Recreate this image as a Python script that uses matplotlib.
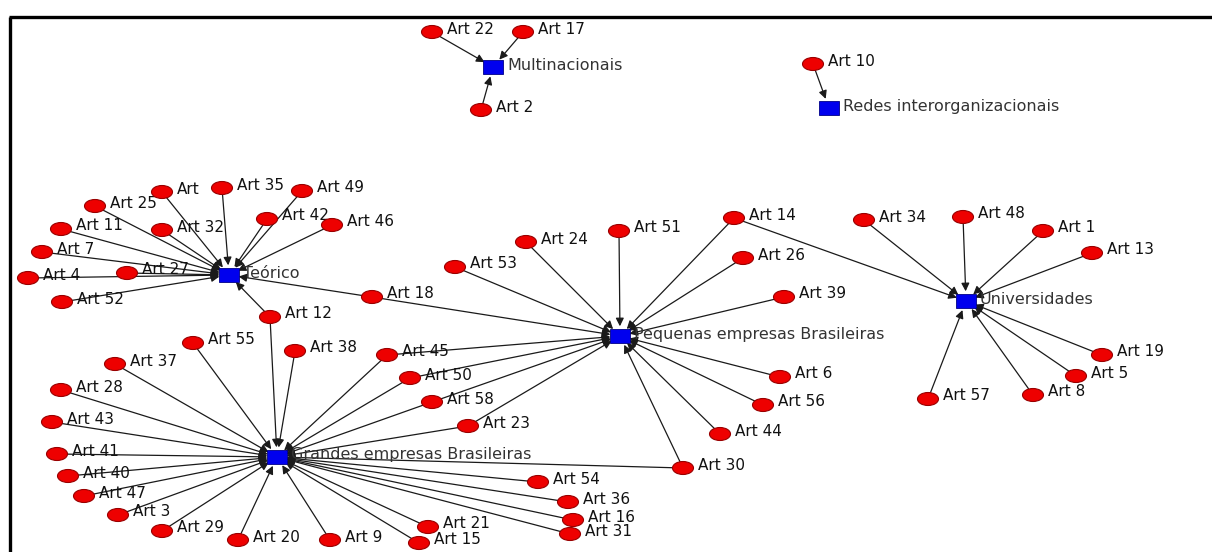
import matplotlib.pyplot as plt
from matplotlib.patches import Ellipse, Rectangle

# hub (category) nodes, pixel positions
hub_names = ['Multinacionais', 'Redes interorganizacionais', 'Teórico',
             'Pequenas empresas Brasileiras', 'Universidades',
             'Grandes empresas Brasileiras']
hub_x = [493, 829, 229, 620, 966, 277]
hub_y = [67, 108, 275, 336, 301, 457]

# article nodes
art_names = ['Art 22', 'Art 17', 'Art 2', 'Art 10',
             'Art', 'Art 35', 'Art 49', 'Art 25', 'Art 42', 'Art 46', 'Art 11',
             'Art 32', 'Art 7', 'Art 27', 'Art 4', 'Art 52', 'Art 18', 'Art 12',
             'Art 14', 'Art 51', 'Art 24', 'Art 26', 'Art 53', 'Art 39',
             'Art 45', 'Art 50', 'Art 58', 'Art 23', 'Art 6', 'Art 56', 'Art 44',
             'Art 30', 'Art 54', 'Art 36', 'Art 16', 'Art 31', 'Art 21', 'Art 15',
             'Art 55', 'Art 38', 'Art 37', 'Art 28', 'Art 43', 'Art 41', 'Art 40',
             'Art 47', 'Art 3', 'Art 29', 'Art 20', 'Art 9',
             'Art 34', 'Art 48', 'Art 1', 'Art 13', 'Art 19', 'Art 5', 'Art 8', 'Art 57']
art_x = [432, 523, 481, 813,
         162, 222, 302, 95, 267, 332, 61,
         162, 42, 127, 28, 62, 372, 270,
         734, 619, 526, 743, 455, 784,
         387, 410, 432, 468, 780, 763, 720,
         683, 538, 568, 573, 570, 428, 419,
         193, 295, 115, 61, 52, 57, 68,
         84, 118, 162, 238, 330,
         864, 963, 1043, 1092, 1102, 1076, 1033, 928]
art_y = [32, 32, 110, 64,
         192, 188, 191, 206, 219, 225, 229,
         230, 252, 273, 278, 302, 297, 317,
         218, 231, 242, 258, 267, 297,
         355, 378, 402, 426, 377, 405, 434,
         468, 482, 502, 520, 534, 527, 543,
         343, 351, 364, 390, 422, 454, 476,
         496, 515, 531, 540, 540,
         220, 217, 231, 253, 355, 376, 395, 399]

# which articles point at which hub
links = {
    'Multinacionais': ['Art 22', 'Art 17', 'Art 2'],
    'Redes interorganizacionais': ['Art 10'],
    'Teórico': ['Art', 'Art 35', 'Art 49', 'Art 25', 'Art 42', 'Art 46', 'Art 11',
                'Art 32', 'Art 7', 'Art 27', 'Art 4', 'Art 52', 'Art 18', 'Art 12'],
    'Pequenas empresas Brasileiras': ['Art 14', 'Art 51', 'Art 24', 'Art 26', 'Art 53',
                                      'Art 39', 'Art 18', 'Art 45', 'Art 50', 'Art 58',
                                      'Art 23', 'Art 6', 'Art 56', 'Art 44', 'Art 30'],
    'Universidades': ['Art 14', 'Art 34', 'Art 48', 'Art 1', 'Art 13', 'Art 19',
                      'Art 5', 'Art 8', 'Art 57'],
    'Grandes empresas Brasileiras': ['Art 12', 'Art 55', 'Art 38', 'Art 45', 'Art 50',
                                     'Art 58', 'Art 23', 'Art 37', 'Art 28', 'Art 43',
                                     'Art 41', 'Art 40', 'Art 47', 'Art 3', 'Art 29',
                                     'Art 20', 'Art 9', 'Art 15', 'Art 21', 'Art 31',
                                     'Art 16', 'Art 36', 'Art 54', 'Art 30'],
}

fig = plt.figure(figsize=(12.12, 5.52), dpi=100)
ax = fig.add_axes([0, 0, 1, 1])
ax.set_xlim(0, 1212)
ax.set_ylim(552, 0)
ax.axis('off')

# frame (cut off at right and bottom)
ax.plot([10, 10], [552, 17], color='black', lw=2.4, solid_capstyle='butt')
ax.plot([9, 1212], [17, 17], color='black', lw=2.4, solid_capstyle='butt')

art_pos = {n: (x, y) for n, x, y in zip(art_names, art_x, art_y)}
hub_pos = {n: (x, y) for n, x, y in zip(hub_names, hub_x, hub_y)}

# edges with arrowheads at the hub
for hub, arts in links.items():
    for a in arts:
        ax.annotate('', xy=hub_pos[hub], xytext=art_pos[a],
                    arrowprops=dict(arrowstyle='-|>', color='#1a1a1a', lw=0.9,
                                    shrinkA=5, shrinkB=7, mutation_scale=12),
                    zorder=2)

# article nodes and labels
for n, x, y in zip(art_names, art_x, art_y):
    ax.add_patch(Ellipse((x, y), 21, 13, fc='#ee0000', ec='#990000', lw=0.8, zorder=4))
    ax.text(x + 15, y - 3, n, fontsize=11, color='#111111', va='center', ha='left', zorder=3)

# hub squares and labels
for n, x, y in zip(hub_names, hub_x, hub_y):
    ax.add_patch(Rectangle((x - 10, y - 7), 20, 14, fc='#0000ee', ec='#000088', lw=0.6, zorder=5))
    ax.text(x + 14, y - 2, n, fontsize=11.5, color='#333333', va='center', ha='left', zorder=3)

fig.savefig('out.png', dpi=100, facecolor='white')
